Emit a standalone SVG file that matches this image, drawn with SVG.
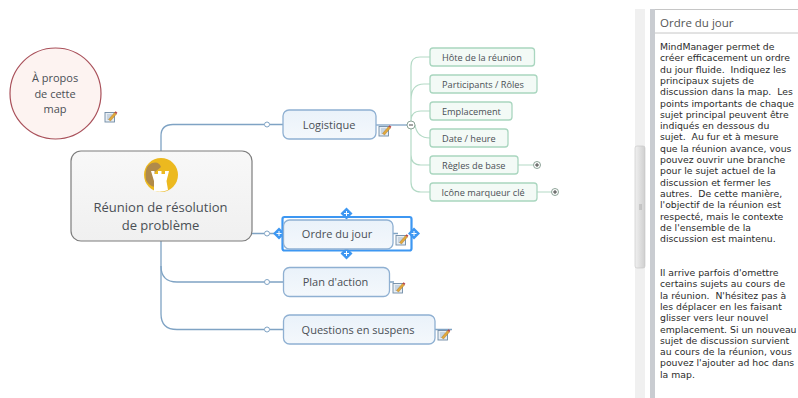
<svg xmlns="http://www.w3.org/2000/svg" width="798" height="398" viewBox="0 0 798 398">
<style>
text{font-family:"Open Sans","Noto Sans","Liberation Sans",sans-serif;fill:#4a4f55;text-anchor:middle}
.main{fill:none;stroke:#7fa3c4;stroke-width:1.3}
.sub{fill:none;stroke:#b4dac6;stroke-width:1.2}
.dot{fill:#fff;stroke:#7fa3c4;stroke-width:1}
.topic{fill:url(#blue);stroke:#8fb0d2;stroke-width:1.3}
.leaf{fill:#f3faf6;stroke:#a9d6bf;stroke-width:1.3}
.t13{font-size:11px}
.t10{font-size:9.2px;text-anchor:start}
.cen{font-size:13px}
.tog{fill:#fff;stroke:#6f8a7c;stroke-width:.8}
.sign{fill:none;stroke:#333;stroke-width:.9}
.panel text{font-family:"DejaVu Sans",sans-serif;font-size:9.3px;fill:#2b2b2b;text-anchor:start;white-space:pre}
.sel{fill:#3d97f2}
.selp{stroke:#fff;stroke-width:1;fill:none}
</style>
<defs>
<linearGradient id="blue" x1="0" y1="0" x2="0" y2="1"><stop offset="0" stop-color="#eaf2fa"/><stop offset="1" stop-color="#f4f8fc"/></linearGradient>
<linearGradient id="grey" x1="0" y1="0" x2="0" y2="1"><stop offset="0" stop-color="#f8f8f8"/><stop offset="1" stop-color="#f0f0f0"/></linearGradient>
<linearGradient id="thumb" x1="0" y1="0" x2="1" y2="0"><stop offset="0" stop-color="#f0f0f0"/><stop offset="1" stop-color="#cfcfcf"/></linearGradient>
<g id="note">
<rect x="0" y="1.5" width="9.5" height="9.5" fill="#e8eef4" stroke="#6f8aa5" stroke-width=".9"/>
<path d="M2 4h5M2 6h4M2 8h3" stroke="#8aa3bb" stroke-width=".7"/>
<path d="M3.500 8.500L9.500 1.500L11.500 3L5.500 10Z" fill="#e2a83a" stroke="#9a6f2a" stroke-width=".4"/>
<path d="M9.500 1.500L10.600 .3L12.400 1.800L11.500 3Z" fill="#b8434a"/>
</g>
<g id="diamond"><path class="sel" d="M0 -6L6 0L0 6L-6 0Z"/><path class="selp" d="M-2.500 0h5M0 -2.500v5"/></g>
</defs>
<rect width="798" height="398" fill="#fff"/>
<g id="connectors">
<path class="main" d="M161 151V136Q161 124.500 173 124.500H264.500M269.500 124.500H283"/>
<path class="main" d="M252 233.500H264.500M269.500 233.500H283"/>
<path class="main" d="M161 241V266Q161 282 177 282H264.500M269.500 282H283"/>
<path class="main" d="M161 266V314Q161 329.500 177 329.500H264.500M269.500 329.500H283"/>
<path class="main" d="M376 125H407"/>
<path class="main" d="M393 233.500H398M390 282H394M435 329.500H452"/>
<path class="sub" d="M411 121V66Q411 57 420 57H430M411 100Q411 84 424 84H430M411 121Q411 111 421 111H430M415 125Q417 138 430 138M411 129V155Q411 165 421 165H430M411 155V182Q411 192 421 192H430"/>
<path class="sub" d="M518 165H533M537 192H551"/>
<circle class="dot" cx="267" cy="124.500" r="2.500"/>
<circle class="dot" cx="267" cy="233.500" r="2.500"/>
<circle class="dot" cx="267" cy="282" r="2.500"/>
<circle class="dot" cx="267" cy="329.500" r="2.500"/>
</g>
<g id="about">
<circle cx="55.500" cy="93.500" r="45.500" fill="#fdf3f1" stroke="#a9505a" stroke-width="1.200"/>
<text class="t13" x="55" y="82">À propos</text>
<text class="t13" x="55" y="97.500">de cette</text>
<text class="t13" x="55" y="113">map</text>
<use href="#note" x="105" y="111"/>
</g>
<g id="central">
<rect x="71" y="151" width="181" height="90" rx="10" fill="url(#grey)" stroke="#7d7d7d" stroke-width="1.200"/>
<circle cx="161" cy="175" r="17" fill="#ecb91f"/>
<path d="M146 180Q144 166 152 163Q159 161 161 167L155 172V187Q149 186 146 180Z" fill="#b08a4a"/>
<path d="M154 191V181L151 171H154.500V174H158V171H161.500V174H165V171H169L166.500 181L168 190Q161 193 154 191Z" fill="#fff"/>
<text class="cen" x="160.500" y="212">Réunion de résolution</text>
<text class="cen" x="160.500" y="229.500">de problème</text>
</g>
<g id="logistique">
<rect class="topic" x="283" y="110" width="93" height="29" rx="6"/>
<text class="t13" x="329" y="128.500">Logistique</text>
<use href="#note" x="379" y="125"/>
</g>
<g id="hote"><rect class="leaf" x="430" y="48" width="104.500" height="18" rx="3"/><text class="t10" x="442" y="60.500">Hôte de la réunion</text></g>
<g id="participants"><rect class="leaf" x="430" y="75" width="107" height="18" rx="3"/><text class="t10" x="442" y="87.500">Participants / Rôles</text></g>
<g id="emplacement"><rect class="leaf" x="430" y="102" width="82" height="18" rx="3"/><text class="t10" x="442" y="114.500">Emplacement</text></g>
<g id="date"><rect class="leaf" x="430" y="129" width="78" height="18" rx="3"/><text class="t10" x="442" y="141.500">Date / heure</text></g>
<g id="regles"><rect class="leaf" x="430" y="156" width="88" height="18" rx="3"/><text class="t10" x="442" y="168.500">Règles de base</text></g>
<g id="icone"><rect class="leaf" x="430" y="183" width="107" height="18" rx="3"/><text class="t10" x="441.500" y="195.500">Icône marqueur clé</text></g>
<g id="toggles">
<circle class="tog" cx="411" cy="125" r="4"/><path class="sign" d="M409 125h4"/>
<circle class="tog" cx="537" cy="165" r="3.500"/><path class="sign" d="M535 165h4M537 163v4"/>
<circle class="tog" cx="555" cy="192" r="3.500"/><path class="sign" d="M553 192h4M555 190v4"/>
</g>
<g id="ordre">
<rect x="282.500" y="217" width="129" height="33.500" rx="2" fill="none" stroke="#3d97f2" stroke-width="2.200"/>
<use href="#diamond" x="346.500" y="213.500"/>
<use href="#diamond" x="346.500" y="253.500"/>
<use href="#diamond" x="279" y="233.500"/>
<use href="#diamond" x="414" y="233.500"/>
<rect class="topic" x="283.500" y="220" width="109.500" height="29" rx="6"/>
<text class="t13" x="337" y="238">Ordre du jour</text>
<use href="#note" x="396" y="234"/>
</g>
<g id="plan">
<rect class="topic" x="283.500" y="267.500" width="106" height="29" rx="6"/>
<text class="t13" x="335.500" y="286">Plan d'action</text>
<use href="#note" x="393" y="282"/>
</g>
<g id="questions">
<rect class="topic" x="283.500" y="315" width="151.500" height="29" rx="6"/>
<text class="t13" x="358" y="333.500">Questions en suspens</text>
<use href="#note" x="438" y="329"/>
</g>
<g class="panel">
<rect x="635" y="9" width="10" height="389" fill="#f0f0f0"/>
<rect x="635" y="146" width="10" height="122" rx="2" fill="url(#thumb)" stroke="#c4c4c4" stroke-width=".6"/>
<path d="M639 205h3M639 207h3M639 209h3" stroke="#999" stroke-width=".7"/>
<rect x="650" y="9" width="5" height="389" fill="#c9ccd1"/>
<path d="M655 9.500H798M655 33H798" stroke="#c6c6c6" stroke-width="1"/>
<text x="660" y="27" style="font-size:11.500px;fill:#555;font-family:'Open Sans',sans-serif">Ordre du jour</text>
<text x="660" y="50">MindManager permet de</text>
<text x="660" y="61.300">créer efficacement un ordre</text>
<text x="660" y="72.600">du jour fluide.  Indiquez les</text>
<text x="660" y="83.900">principaux sujets de</text>
<text x="660" y="95.200">discussion dans la map.  Les</text>
<text x="660" y="106.500">points importants de chaque</text>
<text x="660" y="117.800">sujet principal peuvent être</text>
<text x="660" y="129.100">indiqués en dessous du</text>
<text x="660" y="140.400">sujet.  Au fur et à mesure</text>
<text x="660" y="151.700">que la réunion avance, vous</text>
<text x="660" y="163">pouvez ouvrir une branche</text>
<text x="660" y="174.300">pour le sujet actuel de la</text>
<text x="660" y="185.600">discussion et fermer les</text>
<text x="660" y="196.900">autres.  De cette manière,</text>
<text x="660" y="208.200">l'objectif de la réunion est</text>
<text x="660" y="219.500">respecté, mais le contexte</text>
<text x="660" y="230.800">de l'ensemble de la</text>
<text x="660" y="242.100">discussion est maintenu.</text>
<text x="660" y="276">Il arrive parfois d'omettre</text>
<text x="660" y="287.300">certains sujets au cours de</text>
<text x="660" y="298.600">la réunion.  N'hésitez pas à</text>
<text x="660" y="309.900">les déplacer en les faisant</text>
<text x="660" y="321.200">glisser vers leur nouvel</text>
<text x="660" y="332.500">emplacement. Si un nouveau</text>
<text x="660" y="343.800">sujet de discussion survient</text>
<text x="660" y="355.100">au cours de la réunion, vous</text>
<text x="660" y="366.400">pouvez l'ajouter ad hoc dans</text>
<text x="660" y="377.700">la map.</text>
</g>
</svg>
